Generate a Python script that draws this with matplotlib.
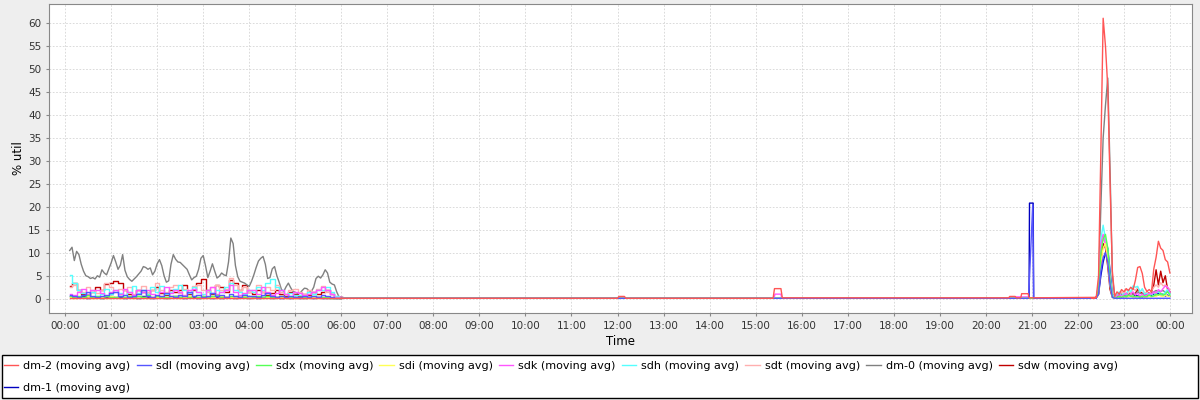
"""Disk % util over one day, moving averages per device."""

import matplotlib

matplotlib.use("Agg")
import matplotlib.pyplot as plt
import numpy as np
from matplotlib.patches import Rectangle

# sample times (hours since midnight)
EARLY_HOURS = np.round(np.arange(0.1, 6.01, 0.1), 2)          # 60 samples
GRAY_HOURS = np.round(np.arange(0.1, 6.001, 0.05), 2)          # dm-0 is busier, finer grid
LATE_HOURS = np.round(np.arange(22.30, 24.001, 0.05), 2)       # 35 samples

SERIES = ["dm-2", "sdl", "sdx", "sdi", "sdk", "sdh", "sdt", "dm-0", "sdw", "dm-1"]
COLORS = {"dm-2": "#ff5555", "sdl": "#5555ff", "sdx": "#55ff55", "sdi": "#ffff55",
          "sdk": "#ff55ff", "sdh": "#55ffff", "sdt": "#ffafaf", "dm-0": "#808080",
          "sdw": "#c00000", "dm-1": "#0000c0"}

DM0_EARLY = [10.5, 11.2, 8.3, 10.3, 9.6, 7.5, 6.0, 5.0, 4.8, 4.4, 4.6, 4.3, 5.0, 4.7, 6.3, 5.6,
             5.2, 6.5, 7.8, 9.4, 8.0, 6.4, 7.3, 9.6, 6.2, 4.8, 4.2, 3.8, 4.3, 4.8, 5.4, 6.0,
             7.0, 6.8, 6.4, 6.7, 5.2, 6.0, 7.6, 8.5, 7.2, 5.0, 3.6, 3.9, 7.5, 9.6, 8.6, 8.0,
             7.9, 7.4, 6.9, 6.4, 5.2, 4.1, 4.6, 4.9, 6.4, 8.8, 9.4, 7.2, 4.6, 6.0, 7.6, 6.0,
             4.5, 4.9, 5.6, 5.2, 5.0, 8.0, 13.2, 12.0, 7.2, 4.8, 3.8, 3.6, 3.4, 3.0, 2.7, 3.8,
             5.2, 6.8, 8.2, 8.8, 9.2, 7.5, 4.4, 4.6, 6.5, 7.0, 5.0, 3.6, 2.0, 1.6, 2.6, 3.4,
             2.4, 1.6, 1.4, 1.2, 1.2, 1.8, 2.3, 2.2, 1.7, 1.6, 2.5, 4.4, 4.9, 4.5, 5.2, 6.3,
             5.6, 3.6, 3.2, 3.0, 1.5, 0.4, 0.4]

SDH_EARLY = [5.2, 3.5, 2.0, 1.2, 0.8, 1.5, 0.5, 1.0, 2.2, 1.0, 2.0, 1.2, 0.8, 1.5, 2.8,
             1.2, 2.0, 1.0, 2.6, 1.5, 2.8, 1.0, 1.5, 2.2, 3.0, 1.8, 1.2, 2.5, 1.5, 1.0,
             2.0, 1.2, 2.0, 1.5, 2.5, 3.5, 2.0, 1.5, 1.0, 2.0, 1.5, 2.5, 2.0, 3.5, 4.2,
             2.5, 1.8, 1.0, 1.2, 0.8, 0.8, 0.6, 1.5, 1.0, 1.8, 2.0, 2.6, 1.5, 0.6, 0.2]
SDK_EARLY = [1.0, 0.8, 1.5, 2.2, 1.0, 1.8, 2.0, 1.2, 0.5, 1.5, 2.0, 1.0, 2.2, 1.5, 0.8,
             2.0, 1.5, 2.0, 1.0, 0.6, 1.5, 2.5, 1.2, 2.0, 1.5, 0.8, 1.8, 2.2, 1.5, 0.5,
             1.8, 2.5, 1.0, 1.5, 2.0, 3.0, 1.5, 0.8, 1.2, 2.0, 1.8, 1.0, 2.5, 1.5, 0.8,
             1.2, 2.0, 1.0, 0.6, 1.5, 1.2, 0.8, 1.0, 1.5, 2.0, 2.5, 1.8, 1.0, 0.4, 0.3]
SDT_EARLY = [2.5, 3.0, 2.0, 1.5, 2.5, 1.8, 1.2, 2.0, 3.5, 2.5, 1.5, 2.2, 1.8, 2.5, 1.0,
             2.0, 2.8, 1.5, 2.0, 3.5, 2.0, 1.5, 2.5, 3.0, 1.2, 2.2, 1.5, 2.8, 3.0, 2.0,
             1.5, 2.5, 3.0, 1.8, 2.2, 4.5, 3.0, 2.0, 2.5, 1.5, 2.0, 3.0, 1.5, 2.5, 2.0,
             3.0, 1.5, 1.0, 1.8, 2.2, 1.5, 1.0, 2.0, 1.5, 2.2, 2.8, 1.5, 1.0, 0.5, 0.3]
SDW_EARLY = [2.8, 3.5, 2.0, 1.0, 0.5, 1.5, 2.5, 2.0, 3.2, 3.5, 3.8, 3.5, 2.0, 1.0, 0.5,
             2.0, 1.5, 1.0, 2.0, 2.5, 1.2, 0.8, 2.0, 1.5, 2.0, 3.0, 1.0, 2.0, 3.5, 4.3,
             2.0, 1.0, 3.0, 2.5, 1.5, 4.0, 3.5, 2.0, 3.0, 1.5, 1.0, 2.0, 1.5, 0.8, 1.2,
             2.0, 1.0, 0.5, 1.5, 1.0, 0.5, 1.0, 0.8, 1.5, 1.0, 1.5, 2.0, 1.0, 0.3, 0.2]
SDL_EARLY = [0.8, 0.5, 0.3, 0.8, 1.5, 0.5, 0.3, 0.5, 0.8, 1.2, 1.5, 0.5, 0.8, 0.3, 0.5,
             1.0, 1.8, 0.6, 0.4, 0.8, 0.5, 1.2, 0.6, 0.3, 0.8, 0.5, 1.5, 0.5, 0.8, 0.4,
             0.6, 1.2, 0.5, 0.8, 0.3, 1.0, 0.5, 0.4, 0.8, 0.6, 0.5, 0.3, 0.8, 1.2, 0.5,
             0.4, 0.6, 0.3, 0.5, 0.4, 0.3, 0.5, 0.3, 0.6, 0.4, 0.8, 0.5, 0.3, 0.2, 0.1]
SDX_EARLY = [0.5, 0.3, 0.6, 0.4, 0.8, 0.3, 0.5, 0.2, 0.6, 0.4, 0.3, 0.7, 0.4, 0.5, 0.3,
             0.6, 0.4, 0.8, 0.3, 0.5, 0.4, 0.3, 0.6, 0.5, 0.4, 0.7, 0.3, 0.5, 0.4, 0.6,
             0.3, 0.5, 0.8, 0.4, 0.3, 0.6, 0.5, 0.4, 0.3, 0.5, 0.4, 0.6, 0.3, 0.5, 0.4,
             0.3, 0.5, 0.4, 0.3, 0.4, 0.3, 0.4, 0.3, 0.5, 0.3, 0.4, 0.3, 0.2, 0.1, 0.1]
SDI_EARLY = [0.3, 0.2, 0.4, 0.3, 0.5, 0.2, 0.3, 0.4, 0.2, 0.6, 0.3, 0.2, 0.4, 0.3, 0.2,
             0.5, 0.3, 0.2, 0.4, 0.3, 0.5, 0.2, 0.3, 0.4, 0.2, 0.3, 0.5, 0.6, 0.3, 0.2,
             0.4, 0.3, 0.2, 0.5, 0.3, 0.4, 0.2, 0.3, 0.5, 0.2, 0.3, 0.4, 0.2, 0.3, 0.2,
             0.4, 0.3, 0.2, 0.3, 0.2, 0.3, 0.2, 0.2, 0.3, 0.2, 0.3, 0.2, 0.1, 0.1, 0.1]
DM1_EARLY = [0.6, 0.4, 0.3, 0.5, 0.2, 0.3, 0.4, 0.2, 0.3, 0.5, 0.4, 0.3, 0.2, 0.4, 0.3,
             0.2, 0.5, 0.3, 0.2, 0.3, 0.4, 0.2, 0.3, 0.5, 0.3, 0.2, 0.4, 0.3, 0.2, 0.3,
             0.4, 0.2, 0.3, 0.2, 0.4, 0.3, 0.2, 0.3, 0.4, 0.2, 0.3, 0.2, 0.3, 0.4, 0.2,
             0.3, 0.2, 0.3, 0.2, 0.3, 0.2, 0.2, 0.3, 0.2, 0.3, 0.2, 0.2, 0.1, 0.1, 0.1]
DM2_EARLY = [0.1] * 60

# quiet middle of the day: (hours, value) events
DM2_MID_H = [6.1, 12.0, 12.03, 12.15, 12.18, 15.38, 15.41, 15.55, 15.58, 20.50, 20.52,
             20.64, 20.66, 20.76, 20.78, 20.92, 20.94, 22.40]
DM2_MID_V = [0.1, 0.1, 0.5, 0.5, 0.1, 0.1, 2.2, 2.2, 0.2, 0.2, 0.5, 0.5, 0.2, 0.2,
             1.1, 1.1, 0.2, 0.3]
DM1_MID_H = [6.1, 20.94, 20.95, 21.03, 21.04, 22.40]
DM1_MID_V = [0.1, 0.1, 20.8, 20.8, 0.1, 0.1]
SDL_MID_H = [6.1, 20.93, 21.02, 21.04, 22.40]
SDL_MID_V = [0.1, 0.1, 20.5, 0.1, 0.1]
SDK_MID_H = [6.1, 15.40, 15.42, 15.55, 15.57, 20.50, 20.52, 20.92, 20.94, 22.40]
SDK_MID_V = [0.1, 0.1, 1.0, 1.0, 0.1, 0.1, 0.4, 0.4, 0.1, 0.1]
FLAT_MID_H = [6.1, 22.40]
FLAT_MID_V = [0.1, 0.1]

# 22:18 .. 24:00 burst
LATE = {
    "dm-2": [0.1, 0.1, 0.3, 5.0, 32.0, 61.0, 55.0, 46.0, 25.0, 6.0, 0.5, 1.5, 1.0, 2.0, 1.5,
             2.2, 1.8, 2.5, 2.0, 4.0, 6.8, 7.0, 5.5, 2.5, 1.6, 2.0, 1.5, 6.5, 9.0, 12.5, 11.0,
             10.5, 8.5, 8.0, 5.6],
    "dm-0": [0.1, 0.1, 0.2, 3.0, 20.0, 35.0, 42.0, 48.0, 28.0, 5.0, 0.5, 0.6, 0.8, 0.5, 1.0,
             0.7, 0.8, 1.2, 0.9, 1.0, 1.5, 1.2, 1.0, 0.8, 1.0, 0.9, 1.2, 1.5, 1.8, 1.5, 1.6,
             1.8, 1.4, 1.5, 1.2],
    "sdh": [0.1, 0.1, 0.2, 3.0, 13.0, 16.0, 13.0, 11.0, 5.0, 1.0, 0.2, 0.8, 1.5, 0.6, 1.2,
            0.8, 2.0, 1.5, 2.8, 2.5, 2.7, 1.5, 2.2, 1.0, 1.2, 0.8, 1.0, 0.6, 1.2, 1.5, 1.0,
            0.8, 1.5, 2.0, 1.0],
    "sdk": [0.1, 0.1, 0.2, 2.0, 12.0, 14.0, 12.0, 9.0, 4.0, 0.5, 0.2, 0.6, 1.0, 0.5, 0.8,
            1.2, 0.6, 1.0, 1.5, 0.8, 1.2, 0.6, 1.0, 0.5, 0.8, 1.2, 1.0, 1.5, 1.2, 2.0, 1.5,
            2.2, 2.8, 2.5, 1.5],
    "sdx": [0.1, 0.1, 0.2, 2.0, 10.0, 13.0, 14.0, 11.0, 4.0, 0.5, 0.1, 0.3, 0.5, 0.3, 0.6,
            0.4, 0.8, 0.5, 0.6, 0.4, 0.5, 0.3, 0.6, 0.4, 0.5, 0.8, 0.5, 0.6, 1.0, 0.8, 1.2,
            0.8, 1.0, 1.5, 0.8],
    "sdi": [0.1, 0.1, 0.1, 1.0, 8.0, 11.0, 12.0, 9.0, 3.0, 0.3, 0.1, 0.2, 0.4, 0.3, 0.5,
            0.3, 0.4, 0.6, 0.3, 0.5, 0.4, 0.3, 0.5, 0.4, 0.3, 0.5, 0.4, 0.6, 0.5, 0.8, 0.6,
            0.5, 0.8, 0.6, 0.5],
    "sdt": [0.1, 0.1, 0.2, 2.0, 12.0, 13.0, 12.0, 8.0, 3.0, 0.5, 0.3, 1.2, 0.8, 1.5, 1.0,
            2.0, 1.5, 1.2, 2.2, 1.8, 2.5, 1.5, 2.0, 1.2, 1.5, 1.0, 1.8, 2.5, 3.0, 2.5, 3.5,
            2.8, 3.0, 2.5, 2.0],
    "sdw": [0.1, 0.1, 0.2, 1.0, 8.0, 12.0, 11.0, 7.0, 2.0, 0.3, 0.2, 0.8, 0.5, 1.0, 0.6,
            1.2, 0.8, 1.5, 1.0, 1.2, 2.0, 1.5, 1.2, 0.8, 1.5, 1.2, 1.5, 3.0, 6.3, 3.0, 6.0,
            3.5, 5.0, 2.0, 1.5],
    "sdl": [0.1, 0.1, 0.2, 1.0, 6.0, 9.0, 10.0, 8.0, 3.0, 0.3, 0.1, 0.1, 0.1, 0.1, 0.1,
            0.1, 0.1, 0.1, 0.1, 0.1, 0.1, 0.1, 0.1, 0.1, 0.1, 0.1, 0.1, 0.1, 0.1, 0.1, 0.1,
            0.1, 0.1, 0.1, 0.1],
    "dm-1": [0.1, 0.1, 0.2, 1.0, 5.0, 8.0, 10.0, 11.0, 6.0, 1.0, 0.2, 0.5, 0.3, 0.6, 0.4,
             0.8, 0.5, 0.6, 0.4, 0.8, 0.6, 0.5, 0.4, 0.6, 0.5, 0.8, 0.6, 1.0, 0.8, 1.2, 0.8,
             1.0, 0.6, 0.8, 0.5],
}

EARLY = {"dm-2": DM2_EARLY, "sdl": SDL_EARLY, "sdx": SDX_EARLY, "sdi": SDI_EARLY,
         "sdk": SDK_EARLY, "sdh": SDH_EARLY, "sdt": SDT_EARLY, "sdw": SDW_EARLY,
         "dm-1": DM1_EARLY}
MID = {"dm-2": (DM2_MID_H, DM2_MID_V), "dm-1": (DM1_MID_H, DM1_MID_V),
       "sdl": (SDL_MID_H, SDL_MID_V), "sdk": (SDK_MID_H, SDK_MID_V)}
# legend is filled column by column; this gives the row-wise order of the original
LEGEND_ORDER = ["dm-2", "dm-1", "sdl", "sdx", "sdi", "sdk", "sdh", "sdt", "dm-0", "sdw"]


def main():
    fig = plt.figure(figsize=(12, 4), dpi=100, facecolor="#eeeeee")
    ax = fig.add_axes([49 / 1200, 1 - 313 / 400, (1192 - 49) / 1200, (313 - 4) / 400])
    ax.set_facecolor("white")

    # JFreeChart draws series in reverse order: first series ends on top
    lines = {}
    for name in reversed(SERIES):
        c = COLORS[name]
        if name == "dm-0":
            h0, v0 = list(GRAY_HOURS), DM0_EARLY
            ds = "default"
        else:
            h0, v0 = list(EARLY_HOURS), EARLY[name]
            ds = "steps-mid"  # the small disks look blocky in the morning
        ax.plot(h0, v0, color=c, lw=1.0, drawstyle=ds)
        hm, vm = MID.get(name, (FLAT_MID_H, FLAT_MID_V))
        h = [h0[-1]] + hm + list(LATE_HOURS)
        v = [v0[-1]] + vm + LATE[name]
        lines[name], = ax.plot(h, v, color=c, lw=1.0)

    ax.set_xlim(-0.35, 24.48)
    ax.set_ylim(-3.1, 64.1)
    ax.set_xticks(range(25))
    ax.set_xticklabels([f"{h % 24:02d}:00" for h in range(25)])
    ax.set_yticks(range(0, 61, 5))
    ax.tick_params(labelsize=7.5, colors="#888888", labelcolor="#333333", length=2,
                   width=0.8)
    ax.grid(True, color="#d4d4d4", lw=0.6, ls=(0, (2, 2)))
    for s in ax.spines.values():
        s.set_color("#888888")
    ax.set_xlabel("Time", fontsize=8.5, labelpad=3)
    ax.set_ylabel("% util", fontsize=8.5, labelpad=2)

    fig.patches.append(Rectangle((2 / 1200, 2 / 400), 1196 / 1200, 43 / 400,
                                 transform=fig.transFigure, facecolor="white",
                                 edgecolor="black", lw=1.0))
    fig.legend([lines[n] for n in LEGEND_ORDER], [f"{n} (moving avg)" for n in LEGEND_ORDER],
               loc="upper left", bbox_to_anchor=(4 / 1200, 1 - 361 / 400), ncol=9,
               frameon=False, fontsize=8.0, handlelength=1.3, handletextpad=0.45,
               columnspacing=0.55, labelspacing=1.05, borderpad=0, borderaxespad=0)

    fig.savefig("out.png", dpi=100, facecolor=fig.get_facecolor())


if __name__ == "__main__":
    main()
